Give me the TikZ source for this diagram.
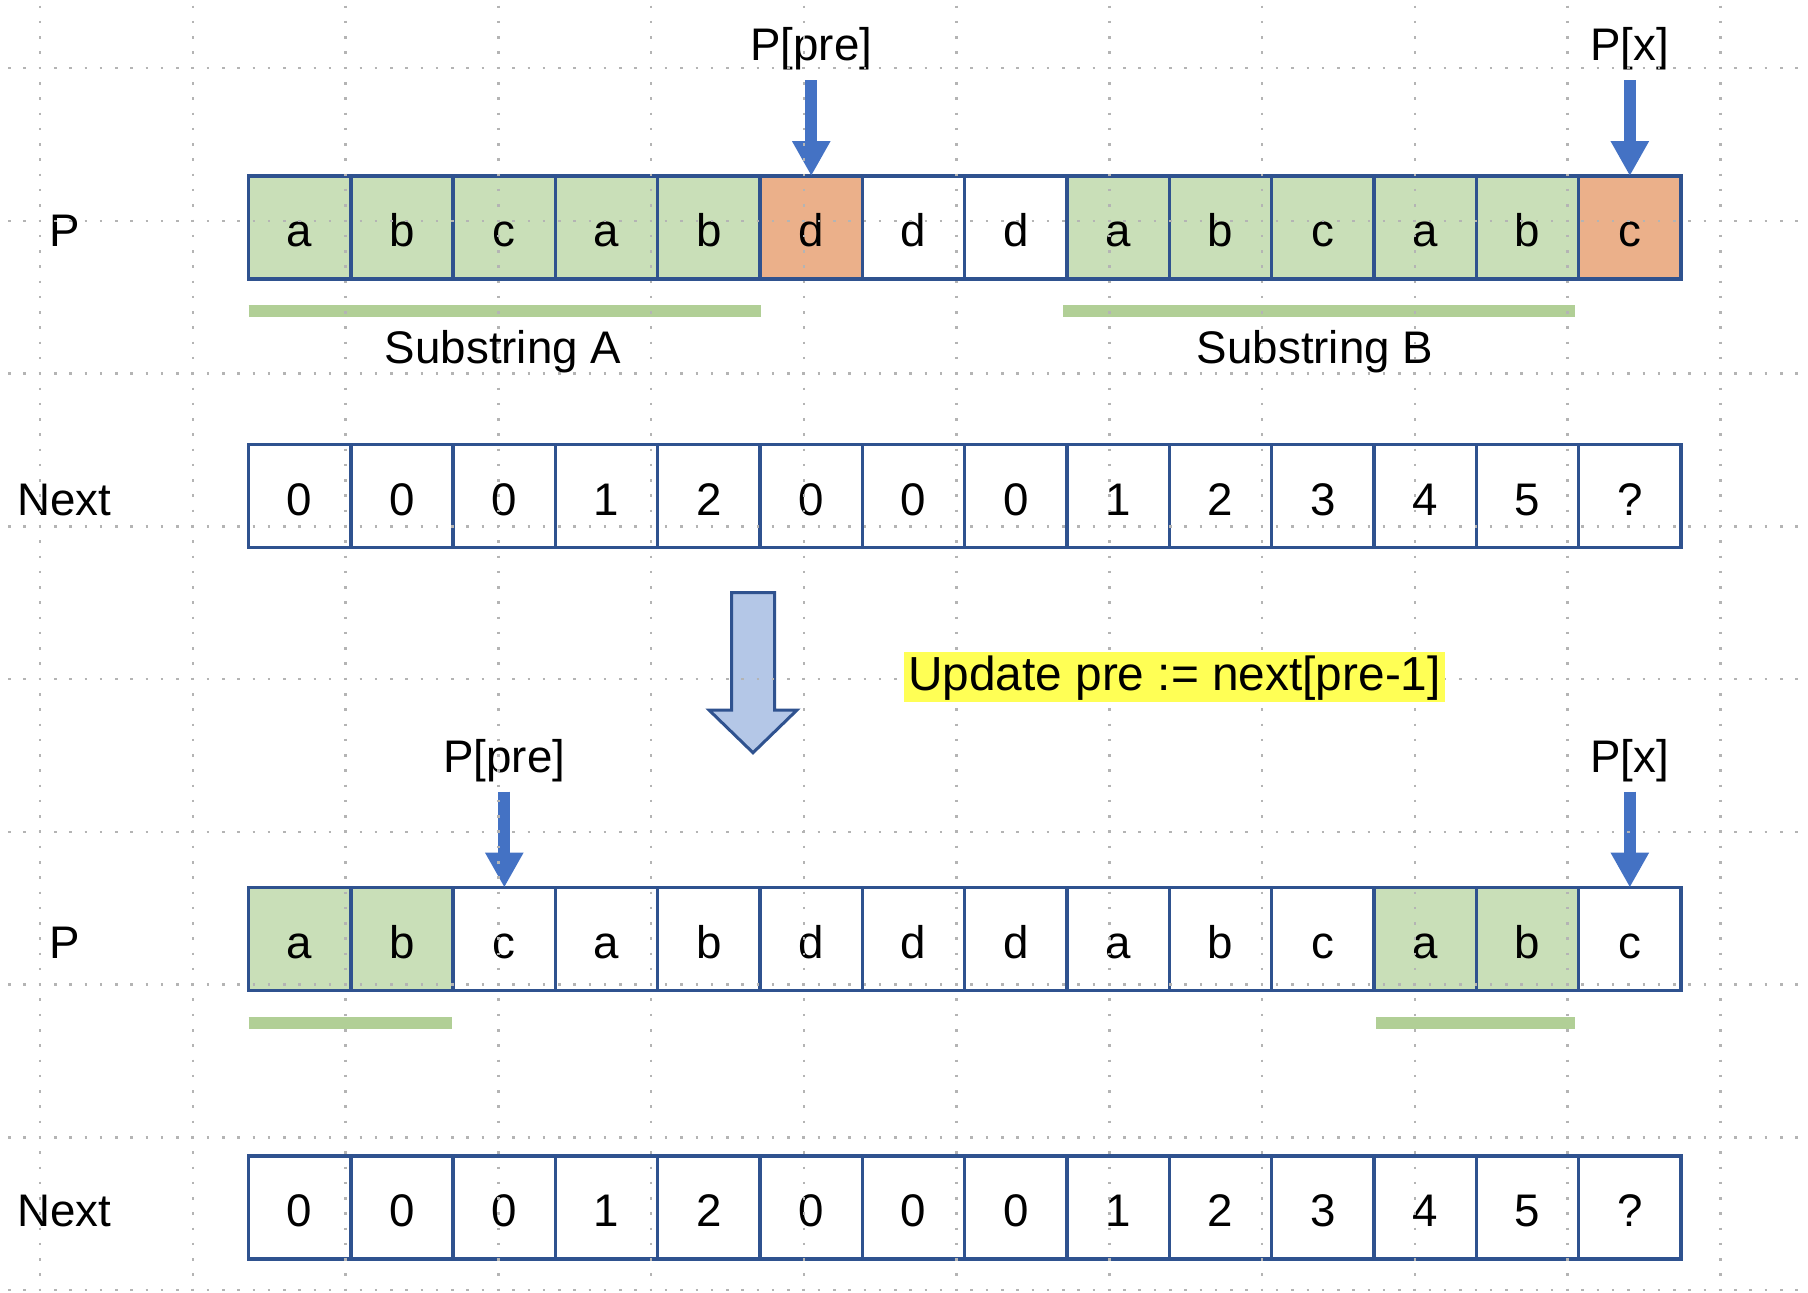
\documentclass[tikz,border=0pt]{standalone}
\usepackage{fontspec}
\setmainfont{Liberation Sans}
\usetikzlibrary{arrows.meta,positioning}

\definecolor{cellline}{HTML}{2F528F}
\definecolor{cgreen}{HTML}{C9DFB8}
\definecolor{corange}{HTML}{EBB08A}
\definecolor{bargreen}{HTML}{B1CF96}
\definecolor{ptrblue}{HTML}{4472C4}
\definecolor{stepfill}{HTML}{B4C7E7}
\definecolor{hlyellow}{HTML}{FFFF55}
\definecolor{dotgray}{HTML}{B4B4B4}

\tikzset{
  cell/.style={draw=cellline, line width=0.034cm, minimum width=1.0232cm, minimum height=1.03cm,
    inner sep=0pt, outer sep=0pt, text height=0.384cm, text depth=0cm},
  rowlbl/.style={inner sep=0pt, text height=0.384cm, text depth=0cm},
  ptrlbl/.style={inner sep=0.1cm, outer sep=0pt},
  ptr/.style={-{Triangle[length=0.35cm,width=0.36cm]}, line width=0.117cm, draw=ptrblue},
  substr/.style={line width=0.12cm, draw=bargreen},
  griddot/.style={draw=dotgray, line width=0.025cm, dash pattern=on 0.025cm off 0.12775cm},
  hilite/.style={fill=hlyellow, minimum width=5.41cm, minimum height=0.5cm, inner sep=0pt,
    text height=0.34cm, text depth=0.07cm, font=\fontsize{13.6}{16}\selectfont}
}

\begin{document}
\begin{tikzpicture}[font=\fontsize{13}{16}\selectfont]
  \useasboundingbox (0,0) rectangle (18.08,-12.92);
  \fill[white] (0,0) rectangle (18.08,-12.92);

  % P before the update
  \node[rowlbl] (lp1) at (0.65,-2.275) {P};
  \foreach \c/\f [count=\i] in {a/cgreen, b/cgreen, c/cgreen, a/cgreen, b/cgreen, d/corange, d/white,
      d/white, a/cgreen, b/cgreen, c/cgreen, a/cgreen, b/cgreen, c/corange}
    \node[cell, fill=\f] (pa\i) at ({2.485+(\i-0.5)*1.0232}, -2.275) {\c};

  % Pointers
  \node[ptrlbl, above=0.96cm of pa6] (pre1) {P[pre]};
  \draw[ptr] (pre1) -- (pa6);
  \node[ptrlbl, above=0.96cm of pa14] (px1) {P[x]};
  \draw[ptr] (px1) -- (pa14);

  % Substrings
  \draw[substr] (2.486,-3.11) -- (7.61,-3.11);
  \draw[substr] (10.63,-3.11) -- (15.75,-3.11);
  \node[anchor=base] (subA) at (5.03,-3.63) {Substring A};
  \node[anchor=base] (subB) at (13.15,-3.63) {Substring B};

  % Next before the update
  \node[rowlbl] (ln1) at (0.64,-4.96) {Next};
  \foreach \v [count=\i] in {0,0,0,1,2,0,0,0,1,2,3,4,5,?}
    \node[cell] (na\i) at ({2.485+(\i-0.5)*1.0232}, -4.96) {\v};

  % Update step
  \draw[fill=stepfill, draw=cellline, line width=0.03cm] (7.315,-5.927) -- (7.745,-5.927) -- (7.745,-7.10)
    -- (7.97,-7.10) -- (7.53,-7.527) -- (7.09,-7.10) -- (7.315,-7.10) -- cycle;

  % P after the update
  \node[rowlbl] (lp2) at (0.65,-9.39) {P};
  \foreach \c/\f [count=\i] in {a/cgreen, b/cgreen, c/white, a/white, b/white, d/white, d/white,
      d/white, a/white, b/white, c/white, a/cgreen, b/cgreen, c/white}
    \node[cell, fill=\f] (pb\i) at ({2.485+(\i-0.5)*1.0232}, -9.39) {\c};

  \node[ptrlbl, above=0.96cm of pb3] (pre2) {P[pre]};
  \draw[ptr] (pre2) -- (pb3);
  \node[ptrlbl, above=0.96cm of pb14] (px2) {P[x]};
  \draw[ptr] (px2) -- (pb14);

  \draw[substr] (2.486,-10.23) -- (4.52,-10.23);
  \draw[substr] (13.76,-10.23) -- (15.75,-10.23);

  % Next after the update
  \node[rowlbl] (ln2) at (0.64,-12.075) {Next};
  \foreach \v [count=\i] in {0,0,0,1,2,0,0,0,1,2,3,4,5,?}
    \node[cell] (nb\i) at ({2.485+(\i-0.5)*1.0232}, -12.075) {\v};

  % Dotted grid
  \foreach \k in {0,...,11}
    \draw[griddot] ({0.40+\k*1.5275},-0.0565) -- ++(0,-12.9);
  \foreach \k in {0,...,8}
    \draw[griddot] (0.082,{-0.68-\k*1.5275}) -- ++(18.0,0);

  \node[hilite] (upd) at (11.745,-6.77) {Update pre := next[pre-1]};
\end{tikzpicture}
\end{document}
